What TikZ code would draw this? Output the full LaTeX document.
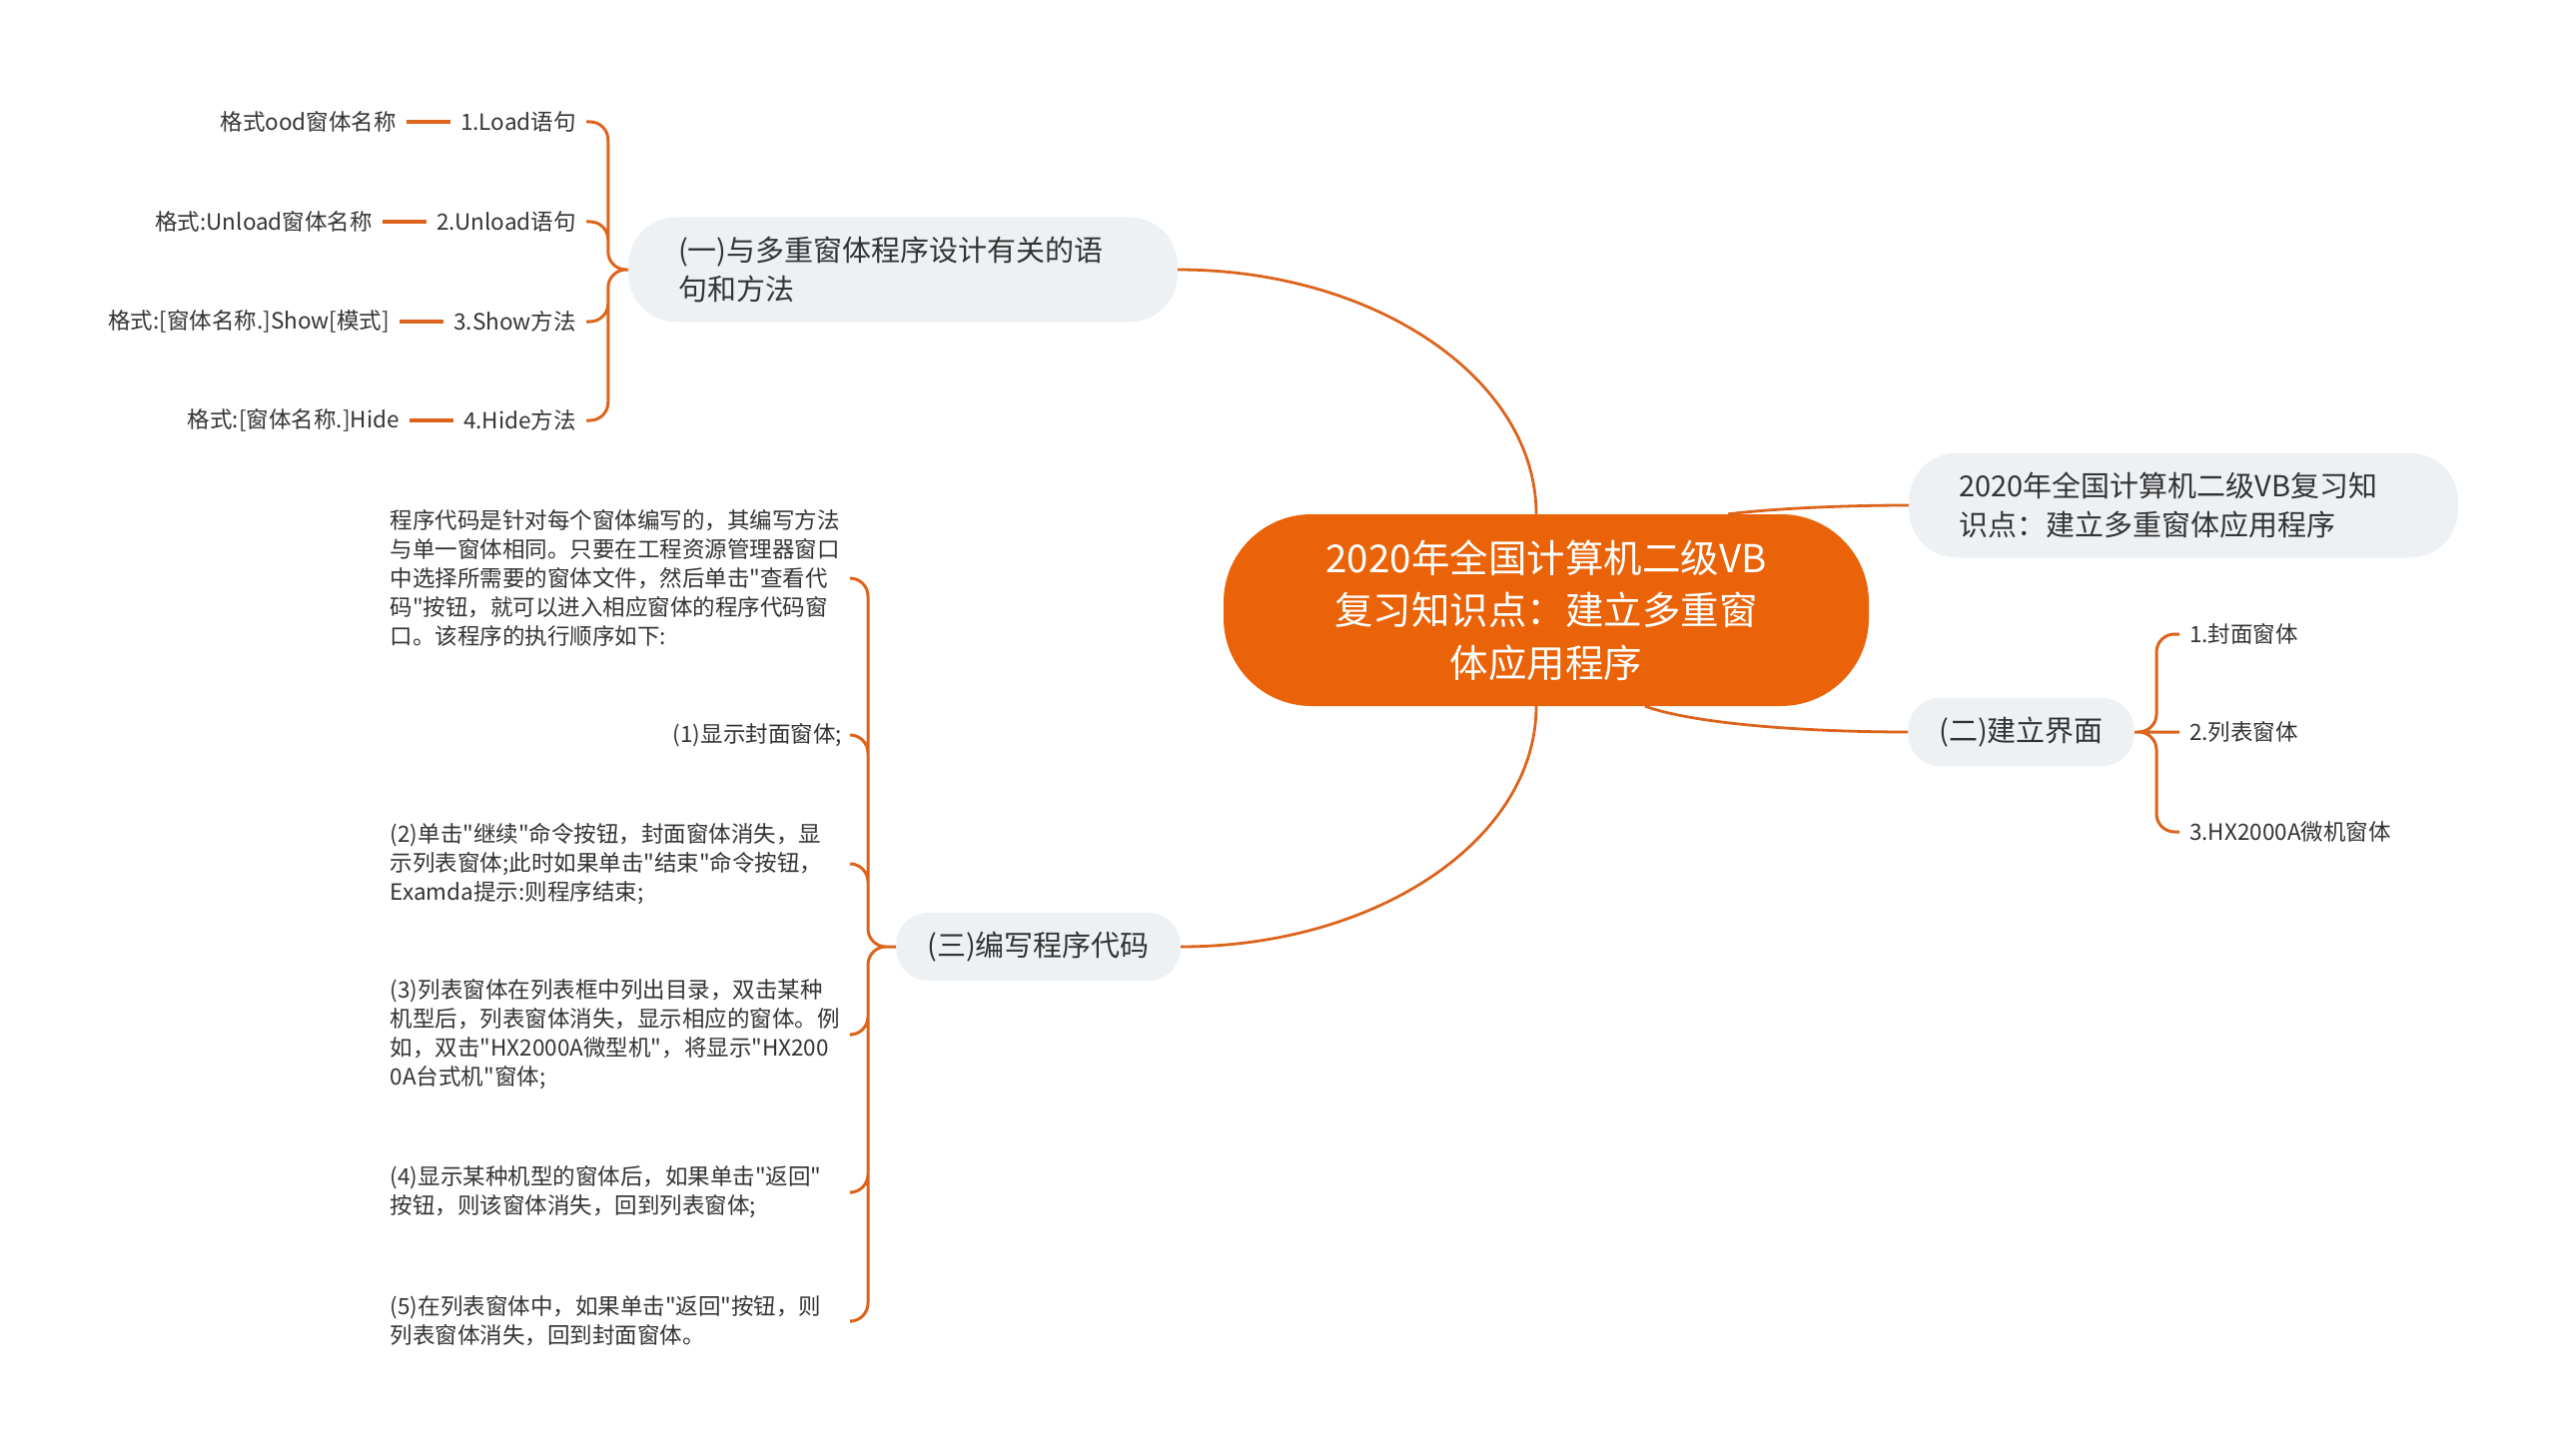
\documentclass[tikz,border=0pt]{standalone}
\usepackage{fontspec}
\setmainfont{Noto Sans CJK SC}[Ligatures=TeXOff]
\usetikzlibrary{positioning}
\definecolor{linkc}{RGB}{220,100,28}
\definecolor{rootc}{RGB}{234,99,8}
\definecolor{topicc}{RGB}{238,241,244}
\definecolor{textc}{RGB}{51,51,51}

\begin{document}
\begin{tikzpicture}[x=1pt, y=-1pt,
        root/.style={fill=rootc, text=white, rounded corners=88, minimum width=646, minimum height=192, align=center, font=\fontsize{38.5}{52.5}\selectfont},
        topic/.style={fill=topicc, text=textc, rounded corners=48, minimum height=105, inner xsep=50, inner ysep=0, text width=450, align=left, font=\fontsize{29}{39}\selectfont},
        topicshort/.style={fill=topicc, text=textc, rounded corners=32, minimum height=68, inner xsep=31, inner ysep=0, font=\fontsize{29}{39}\selectfont},
        leaf/.style={text=textc, inner xsep=10, inner ysep=4, font=\fontsize{22.5}{29}\selectfont},
        leaflong/.style={leaf, text width=452, align=left},
        link/.style={draw=linkc, line width=2.8},
        twig/.style={draw=linkc, line width=3, rounded corners=18},
        tie/.style={draw=linkc, line width=3.3}]
        \useasboundingbox (0,0) rectangle (2560,1458);

        \node[root] at (1548, 611)(root){2020年全国计算机二级VB\\复习知识点：建立多重窗\\体应用程序};

        \node[topic] at (904, 270)(n1){(一)与多重窗体程序设计有关的语\\句和方法};
        \node[topic] at (2186, 506)(n2){2020年全国计算机二级VB复习知\\识点：建立多重窗体应用程序};
        \node[topicshort, anchor=west] at (1910, 733)(n3){(二)建立界面};
        \node[topicshort, anchor=east] at (1182, 948)(n4){(三)编写程序代码};

        \node[leaf, anchor=east] at (587, 122)(l11){1.Load语句};
        \node[leaf, anchor=east] at (587, 222)(l12){2.Unload语句};
        \node[leaf, anchor=east] at (587, 322)(l13){3.Show方法};
        \node[leaf, anchor=east] at (587, 421)(l14){4.Hide方法};
        \node[leaf, left=44pt of l11](s11){格式ood窗体名称};
        \node[leaf, left=44pt of l12](s12){格式:Unload窗体名称};
        \node[leaf, left=44pt of l13](s13){格式:[窗体名称.]Show[模式]};
        \node[leaf, left=44pt of l14](s14){格式:[窗体名称.]Hide};

        \node[leaf, anchor=west] at (2182, 635)(l31){1.封面窗体};
        \node[leaf, anchor=west] at (2182, 733)(l32){2.列表窗体};
        \node[leaf, anchor=west] at (2182, 833)(l33){3.HX2000A微机窗体};

        \node[leaflong, anchor=east] at (853, 579)(l41){程序代码是针对每个窗体编写的，其编写方法\\与单一窗体相同。只要在工程资源管理器窗口\\中选择所需要的窗体文件，然后单击"查看代\\码"按钮，就可以进入相应窗体的程序代码窗\\口。该程序的执行顺序如下:};
        \node[leaf, anchor=east] at (853, 736)(l42){(1)显示封面窗体;};
        \node[leaflong, anchor=east] at (853, 865)(l43){(2)单击"继续"命令按钮，封面窗体消失，显\\示列表窗体;此时如果单击"结束"命令按钮，\\Examda提示:则程序结束;};
        \node[leaflong, anchor=east] at (853, 1036)(l44){(3)列表窗体在列表框中列出目录，双击某种\\机型后，列表窗体消失，显示相应的窗体。例\\如，双击"HX2000A微型机"，将显示"HX200\\0A台式机"窗体;};
        \node[leaflong, anchor=east] at (853, 1194)(l45){(4)显示某种机型的窗体后，如果单击"返回"\\按钮，则该窗体消失，回到列表窗体;};
        \node[leaflong, anchor=east] at (853, 1323)(l46){(5)在列表窗体中，如果单击"返回"按钮，则\\列表窗体消失，回到封面窗体。};

        \path[link]
            ([xshift=-10]root.north) .. controls +(0,-135) and +(198,0) .. (n1.east)
            ([xshift=-10]root.south) .. controls +(0,133) and +(197,0) .. (n4.east)
            ([xshift=182]root.north) .. controls +(50,-6) and +(-60,0) .. (n2.west)
            ([xshift=99]root.south) .. controls +(50,18) and +(-100,0) .. (n3.west)
            ;

        \path[twig]
            (n1.west) -- ++(-20,0) |- (l11.east)
            (n1.west) -- ++(-20,0) |- (l12.east)
            (n1.west) -- ++(-20,0) |- (l13.east)
            (n1.west) -- ++(-20,0) |- (l14.east)
            (n3.east) -- ++(22,0) |- (l31.west)
            (n3.east) -- (l32.west)
            (n3.east) -- ++(22,0) |- (l33.west)
            (n4.west) -- ++(-28,0) |- (l41.east)
            (n4.west) -- ++(-28,0) |- (l42.east)
            (n4.west) -- ++(-28,0) |- (l43.east)
            (n4.west) -- ++(-28,0) |- (l44.east)
            (n4.west) -- ++(-28,0) |- (l45.east)
            (n4.west) -- ++(-28,0) |- (l46.east)
            ;

        \path[tie]
            (s11) -- (l11)
            (s12) -- (l12)
            (s13) -- (l13)
            (s14) -- (l14)
            ;
\end{tikzpicture}
\end{document}
